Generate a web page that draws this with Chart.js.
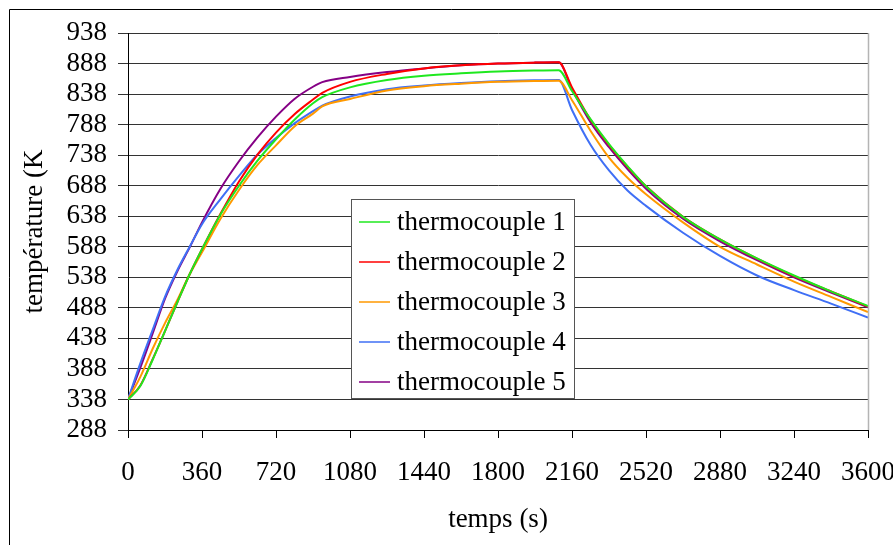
<!DOCTYPE html>
<html>
<head>
<meta charset="utf-8">
<script src="https://cdn.jsdelivr.net/npm/chart.js@4/dist/chart.umd.min.js"></script>
<style>
  html, body { margin: 0; padding: 0; background: #fff; }
  #wrap { width: 893px; height: 545px; position: relative; }
</style>
</head>
<body>
<div id="wrap"><canvas id="c" width="893" height="545"></canvas></div>
<script>
// ---- data ----
const times = [0, 60, 120, 180, 240, 300, 360, 450, 540, 630, 720, 810, 900, 945, 1080, 1260, 1440, 1620, 1800, 1980, 2095,
               2160, 2250, 2340, 2430, 2520, 2700, 2880, 3060, 3240, 3420, 3600];
const thermocouple1 = [338, 360, 403, 450, 497, 543, 584, 641, 688, 729, 764, 796, 823, 833, 849, 861, 868, 872, 875, 876.5, 877,
                       843, 797, 756, 720, 687, 637, 600, 569, 541, 515, 491];
const thermocouple2 = [338, 361, 404, 450, 497, 543, 584, 642, 695, 739, 775, 805, 829, 840, 858, 871, 880, 885, 888, 889.5, 890,
                       849, 796, 755, 719, 687, 637, 600, 568.5, 540, 515, 490];
const thermocouple3 = [338, 375, 421, 463, 501, 543, 579, 634, 681, 722, 754, 785, 806, 818, 830, 844, 851, 855, 858, 859.5, 860,
                       828, 778, 734, 701, 674, 628, 588, 559, 531, 506, 481];
const thermocouple4 = [338, 397, 452, 506, 550, 588, 625, 666, 704, 739, 766, 790, 810, 819, 834, 846, 852, 856, 859, 860.5, 861,
                       812, 755, 713, 680, 655, 611, 573, 541, 517, 495, 472];
const thermocouple5 = [338, 390, 446, 503, 548, 587, 628, 683, 728, 767, 801, 830, 850, 857.5, 866, 874, 880, 885, 888, 889.5, 890,
                       846, 792, 751, 715, 683, 634, 597, 566, 538, 513, 489];
const seriesNames = ['thermocouple 1', 'thermocouple 2', 'thermocouple 3', 'thermocouple 4', 'thermocouple 5'];
const xTickValues = [0, 360, 720, 1080, 1440, 1800, 2160, 2520, 2880, 3240, 3600];
const yTickValues = [288, 338, 388, 438, 488, 538, 588, 638, 688, 738, 788, 838, 888, 938];
const xTitle = 'temps (s)';
const yTitle = 'température (K';

// ---- build ----
const seriesValues = [thermocouple1, thermocouple2, thermocouple3, thermocouple4, thermocouple5];
const seriesColors = ['#1fe81f', '#ff0000', '#ff9900', '#3f6ff5', '#850085'];
const toPoints = vals => vals.map((v, i) => ({ x: times[i], y: v }));

const FONT = 'Liberation Serif, "Times New Roman", serif';

const framePlugin = {
  id: 'frameAndLegend',
  afterDraw(chart) {
    const ctx = chart.ctx;
    const a = chart.chartArea;
    ctx.save();
    // plot area right border
    ctx.strokeStyle = '#b4b4b4';
    ctx.lineWidth = 1.5;
    ctx.beginPath();
    ctx.moveTo(a.right + 0.5, a.top);
    ctx.lineTo(a.right + 0.5, a.bottom);
    ctx.stroke();
    // outer frame (runs off the right and bottom edges)
    ctx.strokeStyle = '#000';
    ctx.lineWidth = 1;
    ctx.beginPath();
    ctx.moveTo(9.5, 600);
    ctx.lineTo(9.5, 9.5);
    ctx.lineTo(900, 9.5);
    ctx.stroke();

    // legend box
    const lx = 351, ly = 199, lw = 223, lh = 199;
    ctx.fillStyle = '#fff';
    ctx.fillRect(lx, ly, lw, lh);
    ctx.strokeStyle = '#555';
    ctx.lineWidth = 1;
    ctx.strokeRect(lx + 0.5, ly + 0.5, lw, lh);
    ctx.strokeStyle = '#333';
    ctx.beginPath();
    ctx.moveTo(lx + 1, ly + lh + 1.5);
    ctx.lineTo(lx + lw + 1, ly + lh + 1.5);
    ctx.stroke();
    ctx.font = '27px ' + FONT;
    ctx.textBaseline = 'middle';
    ctx.textAlign = 'left';
    chart.data.datasets.forEach((ds, i) => {
      const cy = ly + 23 + i * 40;
      ctx.strokeStyle = ds.borderColor;
      ctx.lineWidth = 1.5;
      ctx.beginPath();
      ctx.moveTo(359, cy);
      ctx.lineTo(390, cy);
      ctx.stroke();
      ctx.fillStyle = '#000';
      ctx.fillText(ds.label, 397, cy + 1);
    });
    ctx.restore();
  }
};

new Chart(document.getElementById('c'), {
  type: 'line',
  data: {
    datasets: seriesValues.map((vals, i) => ({
      label: seriesNames[i],
      data: toPoints(vals),
      borderColor: seriesColors[i],
      backgroundColor: seriesColors[i],
      borderWidth: 2,
      pointRadius: 0,
      fill: false,
      cubicInterpolationMode: 'monotone'
    }))
  },
  options: {
    responsive: false,
    animation: false,
    devicePixelRatio: 1,
    layout: { padding: { left: 0, top: 33, right: 25, bottom: 0 } },
    plugins: {
      legend: { display: false },
      tooltip: { enabled: false },
      title: { display: false }
    },
    scales: {
      x: {
        type: 'linear',
        min: 0,
        max: 3600,
        afterBuildTicks: s => { s.ticks = xTickValues.map(v => ({ value: v })); },
        afterFit: s => { s.height = 115; s.paddingLeft = 0; s.paddingRight = 0; },
        ticks: {
          autoSkip: false,
          maxRotation: 0,
          minRotation: 0,
          padding: 19,
          color: '#000',
          font: { family: FONT, size: 27 },
          callback: v => String(v)
        },
        grid: {
          drawOnChartArea: false,
          drawTicks: true,
          tickLength: 8,
          color: '#000',
          lineWidth: 1
        },
        border: { display: true, color: '#000', width: 1 },
        title: {
          display: true,
          text: xTitle,
          color: '#000',
          font: { family: FONT, size: 27 },
          padding: { top: 0, bottom: 9 }
        }
      },
      y: {
        type: 'linear',
        min: 288,
        max: 938,
        afterBuildTicks: s => { s.ticks = yTickValues.map(v => ({ value: v })); },
        afterFit: s => { s.width = 128; s.paddingTop = 0; s.paddingBottom = 0; },
        ticks: {
          autoSkip: false,
          padding: 11,
          color: '#000',
          font: { family: FONT, size: 27 },
          callback: v => String(v)
        },
        grid: {
          drawOnChartArea: true,
          drawTicks: true,
          tickLength: 10,
          color: '#333',
          lineWidth: 1
        },
        border: { display: true, color: '#000', width: 1 },
        title: {
          display: true,
          text: yTitle,
          color: '#000',
          font: { family: FONT, size: 27 },
          padding: { top: 19, bottom: 0 }
        }
      }
    }
  },
  plugins: [framePlugin]
});
</script>
</body>
</html>
